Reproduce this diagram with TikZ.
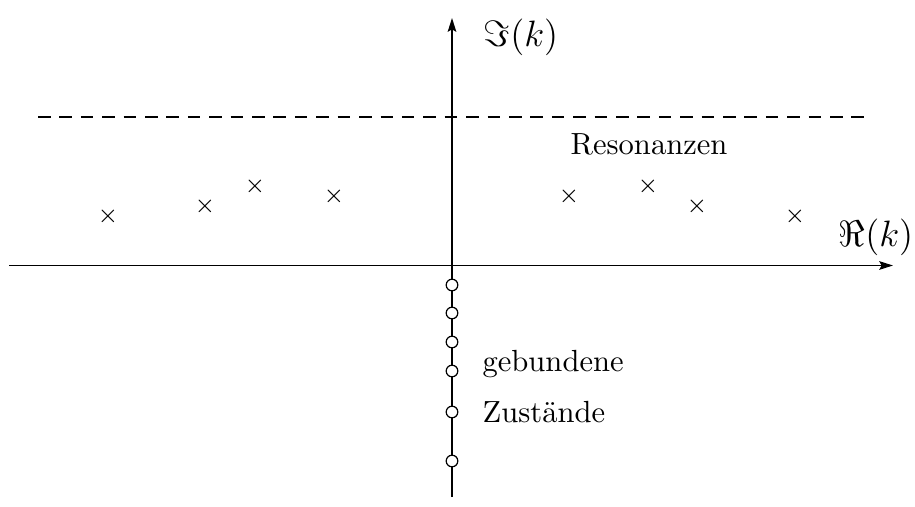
\documentclass[tikz,border=0pt]{standalone}
\usetikzlibrary{arrows.meta}
\begin{document}
\begin{tikzpicture}[x=0.327pt,y=-0.327pt,
  axis/.style={line width=0.6pt,-{Stealth[length=4.5pt,width=2.8pt,inset=0.8pt]}},
  pole/.style={inner sep=0pt,font=\footnotesize},
  bound/.style={circle,draw,fill=white,line width=0.4pt,minimum size=3.8pt,inner sep=0pt},
  lbl/.style={inner sep=0pt,font=\normalsize},
  axlbl/.style={inner sep=0pt,font=\large}]
\useasboundingbox (0,0) rectangle (915,506);
\coordinate (xl) at (9,265.5);
\coordinate (xr) at (893,265.5);
\coordinate (yb) at (452,497);
\coordinate (yt) at (452,18);
\coordinate (dl) at (38,117);
\coordinate (dr) at (866,117);
\draw[axis] (xl) -- (xr);
\draw[axis] (yb) -- (yt);
\draw[line width=0.6pt,dash pattern=on 4.1pt off 2.9pt] (dl) -- (dr);
\node[axlbl] (im) at (521,37) {$\Im(k)$};
\node[axlbl] (re) at (876,237) {$\Re(k)$};
\node[lbl] (res) at (649,144) {Resonanzen};
\node[lbl,anchor=west] (geb) at (482,364) {gebundene};
\node[lbl,anchor=west] (zus) at (482,412) {Zustände};
\node[pole] (p1) at (108,216) {$\times$};
\node[pole] (p2) at (205,206) {$\times$};
\node[pole] (p3) at (255,186) {$\times$};
\node[pole] (p4) at (334,196) {$\times$};
\node[pole] (p5) at (569,196) {$\times$};
\node[pole] (p6) at (648,186) {$\times$};
\node[pole] (p7) at (697,206) {$\times$};
\node[pole] (p8) at (795,216) {$\times$};
\node[bound] (b1) at (452,285) {};
\node[bound] (b2) at (452,313) {};
\node[bound] (b3) at (452,342) {};
\node[bound] (b4) at (452,371) {};
\node[bound] (b5) at (452,412) {};
\node[bound] (b6) at (452,461) {};
\end{tikzpicture}
\end{document}
